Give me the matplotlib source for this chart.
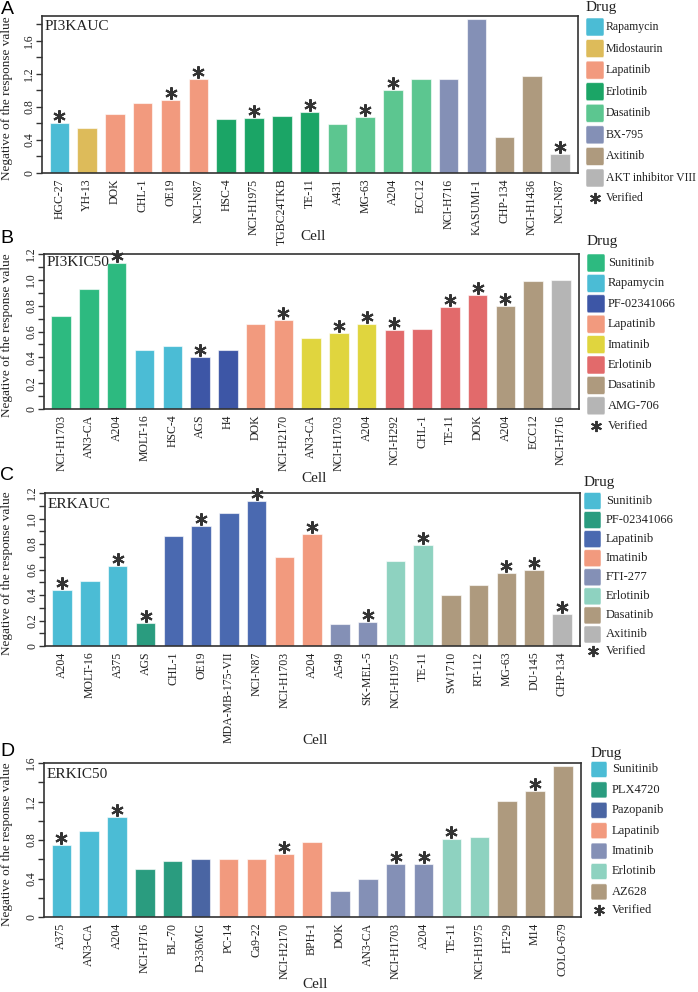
import matplotlib
matplotlib.use("Agg")
import matplotlib.pyplot as plt
import matplotlib.transforms as mtransforms
from matplotlib.patches import FancyBboxPatch
import numpy as np

plt.rcParams['font.family'] = ['Liberation Serif', 'DejaVu Serif']

W, H = 698, 992

# colours used across panels
CYAN = '#4bbcd5'
GOLD = '#ddbb5a'
SALMON = '#f29a7e'
GREEN = '#1ba566'
LGREEN = '#5cc690'
SLATE = '#8490b6'
TAN = '#ae9a7e'
GREY = '#b5b5b5'
SGREEN = '#2dba80'
NAVY = '#3d56a6'
YELLOW = '#e0d53e'
RED = '#e26a6b'
TEAL = '#2a9c7f'
BLUE = '#4a69b0'
MINT = '#8ed2c0'
PAZ = '#4a65a3'

# ---- panel A: PI3KAUC
cells_a = ['HGC-27', 'YH-13', 'DOK', 'CHL-1', 'OE19', 'NCI-N87', 'HSC-4', 'NCI-H1975',
           'TGBC24TKB', 'TE-11', 'A431', 'MG-63', 'A204', 'ECC12', 'NCI-H716', 'KASUMI-1',
           'CHP-134', 'NCI-H1436', 'NCI-N87']
values_a = [0.60, 0.55, 0.72, 0.85, 0.88, 1.14, 0.65, 0.67, 0.69, 0.74, 0.59, 0.68,
            1.01, 1.14, 1.14, 1.86, 0.44, 1.17, 0.23]
drugs_a = ['Rapamycin', 'Midostaurin', 'Lapatinib', 'Lapatinib', 'Lapatinib', 'Lapatinib',
           'Erlotinib', 'Erlotinib', 'Erlotinib', 'Erlotinib', 'Dasatinib', 'Dasatinib',
           'Dasatinib', 'Dasatinib', 'BX-795', 'BX-795', 'Axitinib', 'Axitinib',
           'AKT inhibitor VIII']
verified_a = [1, 0, 0, 0, 1, 1, 0, 1, 0, 1, 0, 1, 1, 0, 0, 0, 0, 0, 1]
legend_a = ['Rapamycin', 'Midostaurin', 'Lapatinib', 'Erlotinib', 'Dasatinib', 'BX-795',
            'Axitinib', 'AKT inhibitor VIII']
colors_a = [CYAN, GOLD, SALMON, GREEN, LGREEN, SLATE, TAN, GREY]

# ---- panel B: PI3KIC50
cells_b = ['NCI-H1703', 'AN3-CA', 'A204', 'MOLT-16', 'HSC-4', 'AGS', 'H4', 'DOK',
           'NCI-H2170', 'AN3-CA', 'NCI-H1703', 'A204', 'NCI-H292', 'CHL-1', 'TE-11', 'DOK',
           'A204', 'ECC12', 'NCI-H716']
values_b = [0.72, 0.93, 1.13, 0.46, 0.49, 0.40, 0.46, 0.66, 0.69, 0.55, 0.59, 0.66,
            0.61, 0.62, 0.79, 0.88, 0.80, 0.99, 1.00]
drugs_b = ['Sunitinib', 'Sunitinib', 'Sunitinib', 'Rapamycin', 'Rapamycin', 'PF-02341066',
           'PF-02341066', 'Lapatinib', 'Lapatinib', 'Imatinib', 'Imatinib', 'Imatinib',
           'Erlotinib', 'Erlotinib', 'Erlotinib', 'Erlotinib', 'Dasatinib', 'Dasatinib',
           'AMG-706']
verified_b = [0, 0, 1, 0, 0, 1, 0, 0, 1, 0, 1, 1, 1, 0, 1, 1, 1, 0, 0]
legend_b = ['Sunitinib', 'Rapamycin', 'PF-02341066', 'Lapatinib', 'Imatinib', 'Erlotinib',
            'Dasatinib', 'AMG-706']
colors_b = [SGREEN, CYAN, NAVY, SALMON, YELLOW, RED, TAN, GREY]

# ---- panel C: ERKAUC
cells_c = ['A204', 'MOLT-16', 'A375', 'AGS', 'CHL-1', 'OE19', 'MDA-MB-175-VII', 'NCI-N87',
           'NCI-H1703', 'A204', 'A549', 'SK-MEL-5', 'NCI-H1975', 'TE-11', 'SW1710', 'RT-112',
           'MG-63', 'DU-145', 'CHP-134']
values_c = [0.44, 0.51, 0.63, 0.18, 0.86, 0.94, 1.04, 1.14, 0.70, 0.88, 0.17, 0.19,
            0.67, 0.79, 0.40, 0.48, 0.57, 0.60, 0.25]
drugs_c = ['Sunitinib', 'Sunitinib', 'Sunitinib', 'PF-02341066', 'Lapatinib', 'Lapatinib',
           'Lapatinib', 'Lapatinib', 'Imatinib', 'Imatinib', 'FTI-277', 'FTI-277',
           'Erlotinib', 'Erlotinib', 'Dasatinib', 'Dasatinib', 'Dasatinib', 'Dasatinib',
           'Axitinib']
verified_c = [1, 0, 1, 1, 0, 1, 0, 1, 0, 1, 0, 1, 0, 1, 0, 0, 1, 1, 1]
legend_c = ['Sunitinib', 'PF-02341066', 'Lapatinib', 'Imatinib', 'FTI-277', 'Erlotinib',
            'Dasatinib', 'Axitinib']
colors_c = [CYAN, TEAL, BLUE, SALMON, SLATE, MINT, TAN, GREY]

# ---- panel D: ERKIC50
cells_d = ['A375', 'AN3-CA', 'A204', 'NCI-H716', 'BL-70', 'D-336MG', 'PC-14', 'Ca9-22',
           'NCI-H2170', 'BPH-1', 'DOK', 'AN3-CA', 'NCI-H1703', 'A204', 'TE-11', 'NCI-H1975',
           'HT-29', 'M14', 'COLO-679']
values_d = [0.745, 0.89, 1.035, 0.50, 0.58, 0.60, 0.60, 0.60, 0.65, 0.78, 0.27, 0.39,
            0.55, 0.55, 0.81, 0.835, 1.21, 1.31, 1.57]
drugs_d = ['Sunitinib', 'Sunitinib', 'Sunitinib', 'PLX4720', 'PLX4720', 'Pazopanib',
           'Lapatinib', 'Lapatinib', 'Lapatinib', 'Lapatinib', 'Imatinib', 'Imatinib',
           'Imatinib', 'Imatinib', 'Erlotinib', 'Erlotinib', 'AZ628', 'AZ628', 'AZ628']
verified_d = [1, 0, 1, 0, 0, 0, 0, 0, 1, 0, 0, 0, 1, 1, 1, 0, 0, 1, 0]
legend_d = ['Sunitinib', 'PLX4720', 'Pazopanib', 'Lapatinib', 'Imatinib', 'Erlotinib', 'AZ628']
colors_d = [CYAN, TEAL, PAZ, SALMON, SLATE, MINT, TAN]

fig = plt.figure(figsize=(W / 100, H / 100), dpi=100)

STAR = (6, 2, 0)


def px_axes(x0, y0, x1, y1):
    return fig.add_axes([x0 / W, 1 - y1 / H, (x1 - x0) / W, (y1 - y0) / H])


def ftext(x, y, s, **kw):
    fig.text(x / W, 1 - y / H, s, **kw)


def panel(box, letter, letter_y, name, name_dy, cells, values, drugs, verified,
          legend, colors, ymax, step, cell_y, leg, leg_fs=9):
    x0, y0, x1, y1 = box
    ax = px_axes(x0, y0, x1, y1)
    cmap = dict(zip(legend, colors))
    x = np.arange(len(cells))
    ax.bar(x, values, width=0.7, color=[cmap[d] for d in drugs],
           edgecolor=(1, 1, 1, 0.6), linewidth=0.8, zorder=2)
    # asterisks just above the verified bars
    star_tr = mtransforms.offset_copy(ax.transData, fig=fig, y=7, units='dots')
    for xi, v, f in zip(x, values, verified):
        if f:
            ax.plot(xi, v, marker=STAR, ms=9, mew=1.5, color='#333333',
                    transform=star_tr, clip_on=False, zorder=3)
    ax.set_xlim(-0.62, len(cells) - 0.35)
    ax.set_ylim(0, ymax)
    ticks = np.round(np.arange(0, ymax + 1e-9, step), 2)
    labs = []
    for i, t in enumerate(ticks):
        if i % 2 == 0:
            labs.append('0' if t == 0 else '%.1f' % t)
        else:
            labs.append('')
    ax.set_yticks(ticks)
    ax.set_yticklabels(labs, rotation=90, va='center', fontsize=8.5, color='#222222')
    ax.set_xticks(x)
    ax.set_xticklabels(cells, rotation=90, fontsize=8.5, color='#222222')
    ax.tick_params(axis='x', length=0, pad=4)
    ax.tick_params(axis='y', length=4, width=1, color='#333333', pad=1)
    for s in ax.spines.values():
        s.set_color('#333333')
        s.set_linewidth(1.2)
    ax.annotate(name, xy=(0, 1), xycoords='axes fraction', xytext=(3, -name_dy),
                textcoords='offset pixels', fontsize=11, va='center', ha='left',
                color='#222222')

    ftext(7, letter_y, letter, fontsize=14, family='Liberation Sans', ha='center', va='center')
    ftext(7, (y0 + y1) / 2 + 4, 'Negative of the response value', rotation=90, fontsize=9.5,
          ha='center', va='center', color='#222222')
    ftext((x0 + x1) / 2 + 3, cell_y, 'Cell', fontsize=11, ha='center', va='center',
          color='#222222')

    # legend
    px0, pw, c0, gap, tx, vy, ty = leg
    ftext(px0, ty, 'Drug', fontsize=11, ha='left', va='center', color='#222222')
    for i, (lab, col) in enumerate(zip(legend, colors)):
        cy = c0 + i * gap
        fig.patches.append(FancyBboxPatch(
            (px0 / W, 1 - (cy + pw / 2) / H), pw / W, pw / H,
            boxstyle='round,pad=0,rounding_size=0.002', transform=fig.transFigure,
            facecolor=col, edgecolor=(1, 1, 1, 0.6), linewidth=0.6))
        ftext(tx, cy, lab, fontsize=leg_fs, ha='left', va='center', color='#222222')
    fig.lines.append(plt.Line2D([(px0 + pw / 2) / W], [1 - vy / H], marker=STAR, ms=8,
                                mew=1.4, color='#333333', transform=fig.transFigure))
    ftext(tx, vy, 'Verified', fontsize=leg_fs, ha='left', va='center', color='#222222')
    return ax


panel((42, 16, 578, 173), 'A', 10, 'PI3KAUC', 10, cells_a, values_a, drugs_a, verified_a,
      legend_a, colors_a, 1.9, 0.2, 237, (586, 18, 27, 21.57, 606, 198, 8), leg_fs=8.5)
panel((44, 254, 579, 409), 'B', 238, 'PI3KIC50', 8, cells_b, values_b, drugs_b, verified_b,
      legend_b, colors_b, 1.2, 0.1, 478, (587, 18, 263, 20.4, 608, 426, 242))
panel((45, 493, 580, 646), 'C', 476, 'ERKAUC', 11, cells_c, values_c, drugs_c, verified_c,
      legend_c, colors_c, 1.2, 0.1, 740, (584, 17, 501, 19.07, 606, 651, 483))
panel((44, 763, 581, 917), 'D', 751, 'ERKIC50', 11, cells_d, values_d, drugs_d, verified_d,
      legend_d, colors_d, 1.6, 0.2, 985, (591, 16, 769.5, 20.4, 612, 910, 753))

fig.savefig('out.png', dpi=100)
